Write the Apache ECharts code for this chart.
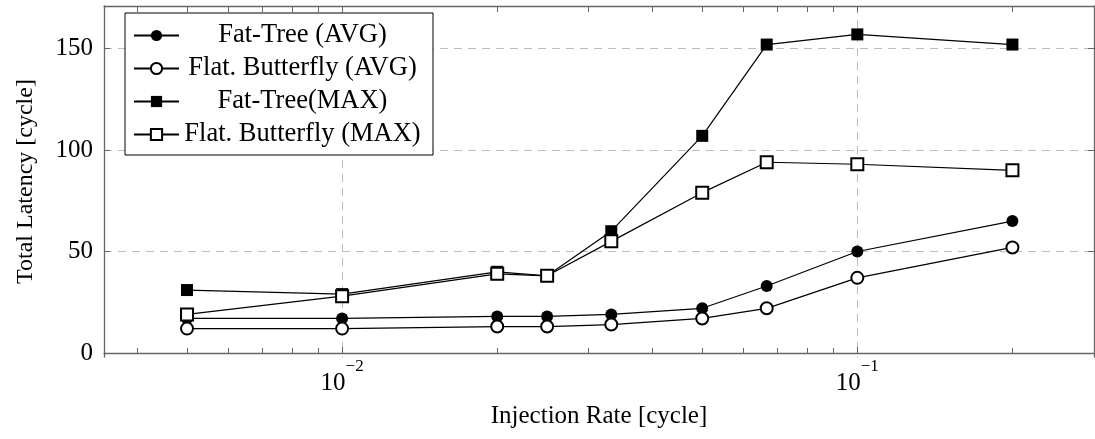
<!DOCTYPE html>
<html>
<head>
<meta charset="utf-8">
<script src="https://cdn.jsdelivr.net/npm/echarts@6/dist/echarts.min.js"></script>
<style>
  html, body { margin: 0; padding: 0; background: #fff; }
  #chart { width: 1095px; height: 439px; }
</style>
</head>
<body>
<div id="chart"></div>
<script>
// injection rates (x, log scale)
const rates = [0.005, 0.01, 0.02, 0.025, 0.0333, 0.05, 0.0667, 0.1, 0.2];

// latencies
const fatTreeAvg = [17, 17, 18, 18, 19, 22, 33, 50, 65];
const butterflyAvg = [12, 12, 13, 13, 14, 17, 22, 37, 52];
const fatTreeMax = [31, 29, 40, 38, 60, 107, 152, 157, 152];
const butterflyMax = [19, 28, 39, 38, 55, 79, 94, 93, 90];

const seriesNames = ['Fat-Tree (AVG)', 'Flat. Butterfly (AVG)', 'Fat-Tree(MAX)', 'Flat. Butterfly (MAX)'];

// tick positions
const xMajorTicks = [0.01, 0.1];
const xMinorTicks = [0.004, 0.005, 0.006, 0.007, 0.008, 0.009,
  0.02, 0.03, 0.04, 0.05, 0.06, 0.07, 0.08, 0.09, 0.2];
const yTicks = [0, 50, 100, 150];

const xMin = 0.00345, xMax = 0.288;
const yMin = -2, yMax = 171;

const font = 'Liberation Serif';
const axisColor = '#666';
const tickStyle = { color: axisColor, width: 1 };

function pairs(ys) {
  return rates.map((x, i) => [x, ys[i]]);
}

function makeSeries(name, ys, symbol, hollow) {
  return {
    name: name,
    type: 'line',
    data: pairs(ys),
    symbol: symbol,
    symbolSize: 12,
    lineStyle: { color: '#000', width: 1.2 },
    itemStyle: hollow
      ? { color: '#000', borderColor: '#000', borderWidth: 1.2 }
      : { color: '#000', borderWidth: 0 },
    emphasis: { disabled: true }
  };
}

const chart = echarts.init(document.getElementById('chart'));
chart.setOption({
  animation: false,
  grid: { left: 104, right: 1, top: 6, bottom: 82, containLabel: false },
  legend: {
    orient: 'vertical',
    left: 125,
    top: 13,
    padding: [9, 12, 7, 8],
    itemGap: 6,
    itemWidth: 45,
    itemHeight: 14,
    backgroundColor: '#fff',
    borderColor: '#000',
    borderWidth: 1,
    borderRadius: 0,
    data: seriesNames,
    formatter: name => '{c|' + name + '}',
    textStyle: {
      color: '#000',
      fontFamily: font,
      fontSize: 26.5,
      rich: {
        c: { width: 237, align: 'center', fontFamily: font, fontSize: 26.5, lineHeight: 27, color: '#000' }
      }
    },
    selectedMode: false
  },
  xAxis: [
    {
      type: 'log',
      logBase: 10,
      position: 'bottom',
      min: xMin,
      max: xMax,
      name: 'Injection Rate [cycle]',
      nameLocation: 'middle',
      nameGap: 47,
      nameTextStyle: { fontFamily: font, fontSize: 25, color: '#000' },
      axisLine: { show: true, lineStyle: { color: axisColor, width: 1.3 } },
      axisTick: { show: true, inside: true, length: 6, customValues: xMajorTicks, lineStyle: tickStyle },
      axisLabel: {
        customValues: xMajorTicks,
        margin: 1,
        formatter: v => '{b|10}{s|\u2212' + Math.round(-Math.log10(v)) + '}',
        rich: {
          b: { fontFamily: font, fontSize: 25, lineHeight: 25, padding: [26, 0, 0, 0], color: '#000' },
          s: { fontFamily: font, fontSize: 17, lineHeight: 17, verticalAlign: 'top', color: '#000' }
        }
      },
      splitLine: { show: true, lineStyle: { color: '#bdbdbd', width: 1, type: [8, 6] } },
      minorTick: { show: false },
      minorSplitLine: { show: false }
    },
    {
      type: 'log',
      logBase: 10,
      position: 'bottom',
      min: xMin,
      max: xMax,
      axisLine: { show: false },
      axisTick: { show: true, inside: true, length: 5, customValues: xMinorTicks, lineStyle: tickStyle },
      axisLabel: { show: false },
      splitLine: { show: false }
    },
    {
      type: 'log',
      logBase: 10,
      position: 'top',
      min: xMin,
      max: xMax,
      axisLine: { show: true, onZero: false, lineStyle: { color: axisColor, width: 1.3 } },
      axisTick: { show: true, inside: true, length: 6, customValues: xMinorTicks.concat(xMajorTicks), lineStyle: tickStyle },
      axisLabel: { show: false },
      splitLine: { show: false }
    }
  ],
  yAxis: [
    {
      type: 'value',
      position: 'left',
      min: yMin,
      max: yMax,
      name: 'Total Latency [cycle]',
      nameLocation: 'middle',
      nameGap: 66,
      nameTextStyle: { fontFamily: font, fontSize: 24, color: '#000' },
      axisLine: { show: true, onZero: false, lineStyle: { color: axisColor, width: 1.3 } },
      axisTick: { show: true, inside: true, length: 6, customValues: yTicks, lineStyle: tickStyle },
      axisLabel: { customValues: yTicks, margin: 11, fontFamily: font, fontSize: 25, color: '#000' },
      splitLine: { show: true, lineStyle: { color: '#bdbdbd', width: 1, type: [8, 6] } }
    },
    {
      type: 'value',
      position: 'right',
      min: yMin,
      max: yMax,
      axisLine: { show: true, onZero: false, lineStyle: { color: axisColor, width: 1.3 } },
      axisTick: { show: true, inside: true, length: 6, customValues: yTicks, lineStyle: tickStyle },
      axisLabel: { show: false },
      splitLine: { show: false }
    }
  ],
  series: [
    makeSeries(seriesNames[0], fatTreeAvg, 'circle', false),
    makeSeries(seriesNames[1], butterflyAvg, 'emptyCircle', true),
    makeSeries(seriesNames[2], fatTreeMax, 'rect', false),
    makeSeries(seriesNames[3], butterflyMax, 'emptyRect', true)
  ]
});
</script>
</body>
</html>
